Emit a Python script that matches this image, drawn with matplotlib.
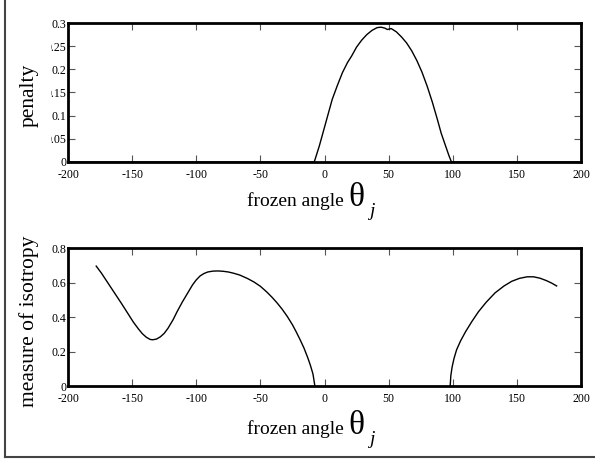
import numpy as np
import matplotlib
matplotlib.use('Agg')
import matplotlib.pyplot as plt
from matplotlib.lines import Line2D
from matplotlib.transforms import Bbox, TransformedBbox

plt.rcParams['font.family'] = ['Liberation Serif', 'DejaVu Serif']

# penalty curve (top panel)
pen_x = [-200, -8, -4, 0, 3, 6, 10, 14, 18, 21, 25, 29, 33, 37, 41, 44, 47, 49, 52, 56, 60, 64, 68,
         72, 76, 80, 84, 88, 91, 94, 97, 99, 200]
pen_y = [0.0, 0.0, 0.035, 0.075, 0.105, 0.135, 0.165, 0.193, 0.215, 0.228, 0.248, 0.263, 0.275,
         0.284, 0.290, 0.291, 0.289, 0.286, 0.288, 0.281, 0.270, 0.257, 0.240, 0.219, 0.194,
         0.164, 0.130, 0.092, 0.062, 0.038, 0.014, 0.0, 0.0]

# measure of isotropy (bottom panel), two branches
iso1_x = [-178, -174, -170, -166, -162, -158, -155, -152, -149, -145, -142, -139, -136, -134,
          -131, -128, -125, -122, -118, -115, -111, -107, -103, -100, -97, -94, -91, -87, -83,
          -79, -75, -71, -66, -60, -55, -50, -45, -41, -37, -33, -29, -25, -22, -19, -16, -13,
          -11, -9, -7.5]
iso1_y = [0.695, 0.655, 0.61, 0.565, 0.52, 0.475, 0.44, 0.405, 0.37, 0.33, 0.303, 0.283, 0.27,
          0.268, 0.272, 0.285, 0.305, 0.335, 0.385, 0.43, 0.485, 0.535, 0.585, 0.615, 0.638,
          0.652, 0.661, 0.666, 0.667, 0.665, 0.661, 0.654, 0.643, 0.623, 0.603, 0.578, 0.545,
          0.515, 0.482, 0.445, 0.403, 0.355, 0.313, 0.268, 0.22, 0.163, 0.12, 0.07, 0.0]
iso2_x = [98, 98.5, 99.5, 101, 103, 106, 110, 115, 120, 126, 133, 140, 146, 152, 158, 163, 168,
          173, 177, 181]
iso2_y = [0.0, 0.06, 0.11, 0.16, 0.21, 0.26, 0.315, 0.375, 0.43, 0.485, 0.54, 0.58, 0.607, 0.624,
          0.633, 0.633, 0.625, 0.611, 0.597, 0.58]

xticks = [-200, -150, -100, -50, 0, 50, 100, 150, 200]
pen_ticks = [0, 0.05, 0.1, 0.15, 0.2, 0.25, 0.3]
pen_labels = ['0', '0.05', '0.1', '0.15', '0.2', '0.25', '0.3']
iso_ticks = [0, 0.2, 0.4, 0.6, 0.8]
iso_labels = ['0', '0.2', '0.4', '0.6', '0.8']

fig = plt.figure(figsize=(5.95, 4.61), dpi=100)
W, H = 595.0, 461.0
ax1 = fig.add_axes([68 / W, 1 - 162 / H, 513 / W, 139 / H])
ax2 = fig.add_axes([68 / W, 1 - 386 / H, 513 / W, 138 / H])

ax1.plot(pen_x, pen_y, color='black', lw=1.0)
ax2.plot(iso1_x, iso1_y, color='black', lw=1.0)
ax2.plot(iso2_x, iso2_y, color='black', lw=1.0)

clip = TransformedBbox(Bbox([[51 / W, 0], [1, 1]]), fig.transFigure)

panels = [(ax1, pen_ticks, pen_labels, (0, 0.3), 'penalty', 206, 95),
          (ax2, iso_ticks, iso_labels, (0, 0.8), 'measure of isotropy', 434, 321)]
for ax, yt, yl, ylim, ylab, base, ymid in panels:
    ax.set_xlim(-200, 200)
    ax.set_ylim(*ylim)
    ax.set_xticks(xticks)
    ax.set_xticklabels([str(v) for v in xticks])
    ax.set_yticks(yt)
    ax.set_yticklabels(yl)
    ax.tick_params(direction='in', length=5, width=0.8, color='#555555', labelsize=8.6,
                   top=True, right=True)
    ax.tick_params(axis='x', pad=5)
    ax.tick_params(axis='y', pad=1)
    for sp in ax.spines.values():
        sp.set_linewidth(2.0)
    ax.set_ylabel(ylab, fontsize=15.5)
    ax.yaxis.set_label_coords(39 / W, 1 - ymid / H, transform=fig.transFigure)
    for tk in ax.yaxis.get_major_ticks():
        tk.label1.set_clip_box(clip)
        tk.label1.set_clip_on(True)
    # x axis label: "frozen angle" + large theta with italic j subscript
    fig.text(247 / W, 1 - base / H, 'frozen angle', fontsize=14, va='baseline', ha='left')
    fig.text(348 / W, 1 - base / H, '\u03b8', fontsize=24, va='baseline', ha='left')
    fig.text(369 / W, 1 - (base + 10) / H, 'j', fontsize=14, style='italic',
             va='baseline', ha='left')

# page frame lines (left and bottom)
fig.add_artist(Line2D([5 / W, 5 / W], [1 - 457 / H, 1], transform=fig.transFigure,
                      color='#444444', lw=1.5))
fig.add_artist(Line2D([5 / W, 1], [1 - 457 / H, 1 - 457 / H], transform=fig.transFigure,
                      color='#444444', lw=1.5))

fig.savefig('out.png', dpi=100)
